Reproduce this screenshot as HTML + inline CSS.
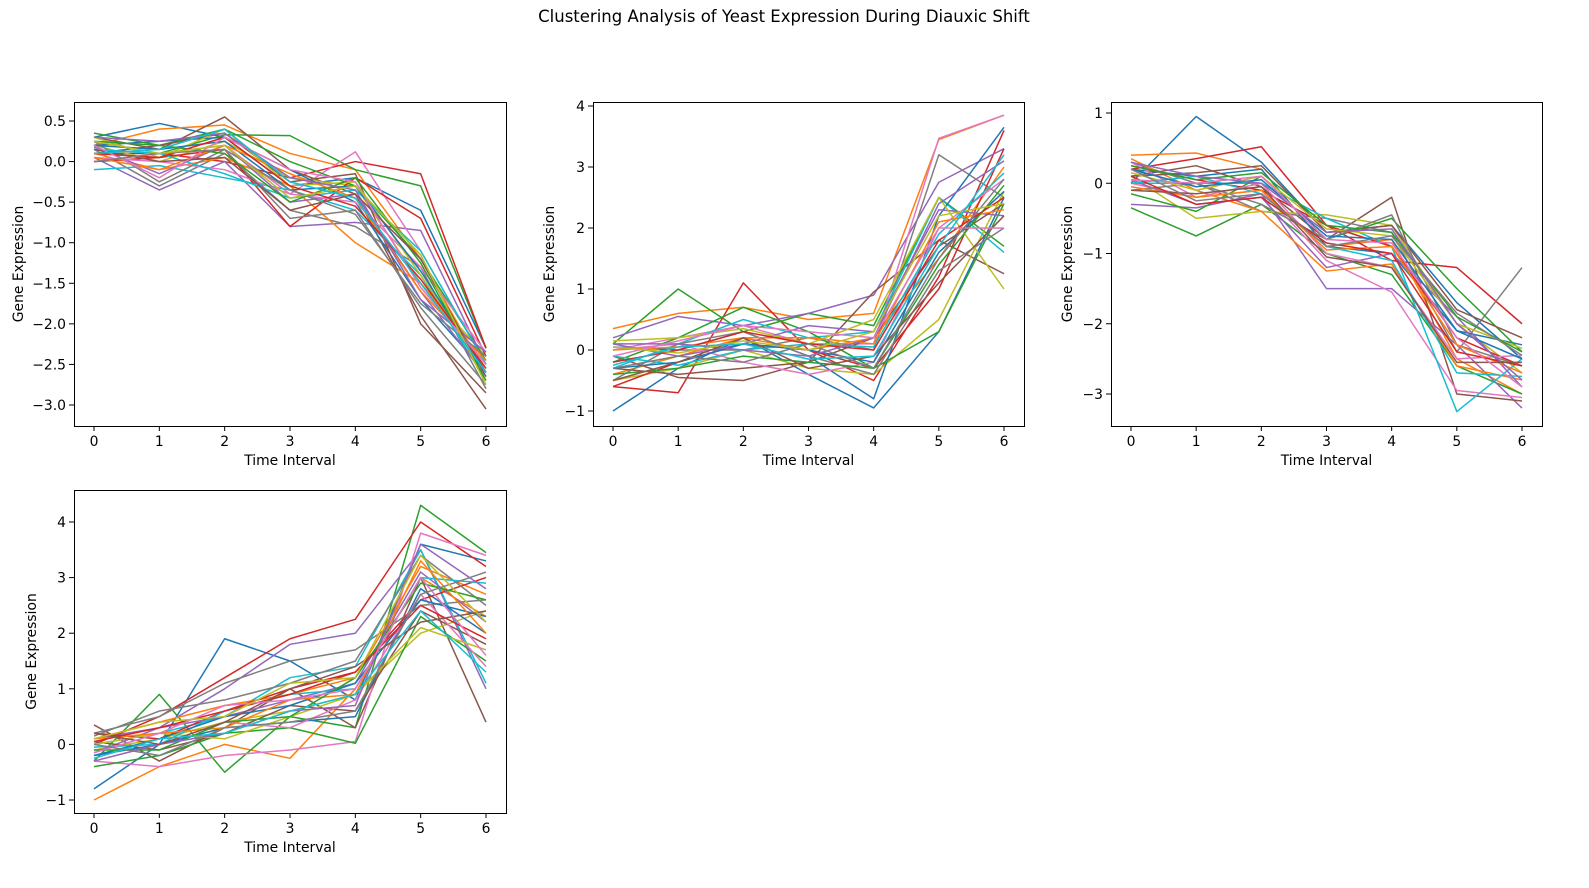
<!DOCTYPE html>
<html><head><meta charset="utf-8"><style>
body{margin:0;background:#fff;}
svg{display:block;font-family:"DejaVu Sans","Liberation Sans",sans-serif;}
</style></head><body>
<svg id="fig" width="1589" height="888" viewBox="0 0 1589 888">
<text x="784" y="22" text-anchor="middle" font-size="16.5">Clustering Analysis of Yeast Expression During Diauxic Shift</text>
</svg>
<script>
const timeCategories=[0,1,2,3,4,5,6];
const cluster1Ticks=[-3.0,-2.5,-2.0,-1.5,-1.0,-0.5,0.0,0.5];
const cluster2Ticks=[-1,0,1,2,3,4];
const cluster3Ticks=[-3,-2,-1,0,1];
const cluster4Ticks=[-1,0,1,2,3,4];
const cluster1Series=[
[0.3,0.47,0.3,-0.3,-0.2,-0.6,-2.3],[0.2,0.4,0.45,0.1,-0.1,-1.2,-2.6],[0.25,0.1,0.33,0.32,-0.1,-0.3,-2.3],
[0.1,0.1,0.0,-0.2,0.0,-0.15,-2.3],[0.05,-0.35,0.0,-0.8,-0.75,-0.85,-2.5],[0.3,0.15,0.55,-0.1,-0.4,-1.9,-3.05],
[0.0,0.1,0.2,-0.4,0.12,-1.1,-2.5],[0.15,-0.3,0.1,-0.6,-0.8,-1.3,-2.8],[0.2,0.0,0.25,-0.2,-0.3,-1.5,-2.4],
[-0.1,-0.05,-0.2,-0.35,-0.6,-1.4,-2.7],[0.2,0.25,0.3,-0.1,-0.5,-1.7,-2.6],[0.1,-0.1,0.05,-0.3,-1.0,-1.5,-2.5],
[0.35,0.2,0.4,0.0,-0.3,-1.2,-2.45],[0.0,0.05,0.15,-0.8,-0.2,-0.7,-2.4],[0.18,-0.15,0.2,-0.5,-0.4,-1.6,-2.65],
[0.1,0.2,0.35,-0.25,-0.15,-2.0,-2.85],[0.05,0.0,-0.1,-0.4,-0.5,-1.3,-2.35],[0.25,-0.25,0.15,-0.7,-0.6,-1.8,-2.75],
[0.3,0.05,0.4,-0.3,-0.25,-1.4,-2.55],[0.15,0.1,-0.15,-0.45,-0.35,-1.1,-2.5],
[0.2,0.15,0.25,-0.35,-0.3,-1.35,-2.6],[0.05,-0.1,0.2,-0.15,-0.45,-1.6,-2.45],[0.25,0.2,0.1,-0.5,-0.2,-1.25,-2.7],
[0.1,0.05,0.3,-0.3,-0.55,-1.45,-2.55],[0.3,0.25,0.35,-0.2,-0.35,-1.7,-2.35],[0.15,0.0,0.05,-0.6,-0.4,-1.2,-2.65],
[0.2,-0.2,0.3,-0.1,-0.25,-1.55,-2.5],[0.0,0.1,0.15,-0.35,-0.65,-1.75,-2.4],[0.25,0.1,0.2,-0.45,-0.3,-1.15,-2.75],
[0.1,0.15,0.4,-0.25,-0.45,-1.5,-2.6]];
const cluster2Series=[
[-1.0,-0.3,0.2,-0.4,-0.95,0.3,2.5],[0.35,0.6,0.7,0.5,0.6,3.45,3.85],[0.1,1.0,0.3,0.6,0.4,2.5,1.7],
[-0.6,-0.7,1.1,0.0,-0.5,1.2,3.6],[0.2,0.55,0.4,0.6,0.9,2.75,3.3],[-0.1,-0.45,-0.5,-0.2,0.95,1.8,1.25],
[0.0,0.2,0.4,0.1,0.1,3.47,3.85],[-0.2,0.0,0.0,0.2,0.0,3.2,2.5],[-0.5,-0.3,0.0,-0.3,-0.4,0.5,2.6],
[-0.3,0.1,0.5,0.2,0.3,2.5,1.6],[0.05,0.0,0.3,-0.1,-0.8,2.2,3.65],[-0.4,-0.1,0.2,0.0,0.2,1.5,3.0],
[-0.2,0.2,0.7,0.3,-0.3,0.3,2.4],[-0.6,-0.2,0.1,0.0,-0.3,1.0,3.3],[0.1,-0.1,0.1,0.4,0.3,2.3,2.2],
[-0.3,-0.4,-0.3,-0.2,0.2,1.7,2.4],[0.0,0.1,-0.2,-0.4,-0.2,2.0,2.8],[-0.5,0.1,0.3,-0.1,-0.4,1.3,2.0],
[0.15,0.2,0.35,0.1,0.5,2.5,1.0],[-0.1,-0.25,0.0,0.1,0.05,1.9,2.9],
[-0.3,-0.2,0.1,0.0,-0.2,1.6,2.6],[0.0,0.05,0.2,0.2,0.1,2.1,2.3],[-0.4,-0.3,-0.1,-0.2,-0.3,1.4,2.7],
[-0.2,0.0,0.3,0.1,0.0,1.8,2.5],[0.1,0.1,0.0,-0.1,0.2,2.4,3.1],[-0.5,-0.2,0.2,-0.3,-0.1,1.1,2.2],
[-0.1,0.15,0.4,0.3,0.2,2.0,2.0],[-0.3,-0.1,-0.2,0.1,-0.3,1.5,2.8],[0.05,-0.05,0.15,0.0,0.3,2.2,2.4],
[-0.25,0.05,0.1,-0.15,-0.1,1.7,3.2]];
const cluster3Series=[
[0.0,0.95,0.3,-0.7,-0.6,-1.7,-2.5],[0.4,0.43,0.2,-0.9,-0.8,-2.5,-3.0],[-0.35,-0.75,-0.3,-1.0,-1.3,-2.6,-3.0],
[0.2,0.35,0.52,-0.6,-1.1,-1.2,-2.0],[-0.3,-0.35,-0.15,-1.5,-1.5,-2.3,-3.2],[0.1,0.25,-0.05,-0.8,-0.2,-3.0,-3.1],
[0.0,-0.2,-0.1,-1.1,-1.55,-2.95,-3.05],[0.3,0.0,-0.4,-0.5,-0.7,-2.4,-1.2],[0.1,-0.5,-0.4,-0.45,-0.6,-2.0,-2.7],
[0.0,0.0,0.0,-0.5,-0.9,-3.25,-2.5],[0.2,0.1,0.2,-0.9,-1.0,-2.1,-2.3],[0.35,-0.1,-0.4,-1.25,-1.15,-2.6,-2.8],
[-0.15,-0.4,0.1,-0.8,-0.5,-1.5,-2.4],[0.25,0.05,-0.1,-0.6,-0.9,-2.2,-2.6],[0.05,-0.3,-0.2,-1.2,-1.0,-1.9,-2.9],
[0.1,0.15,0.25,-0.7,-0.6,-1.8,-2.2],[0.3,-0.2,0.0,-1.0,-1.2,-2.5,-2.45],[-0.1,0.0,-0.3,-0.8,-0.45,-2.3,-2.6],
[0.15,-0.1,0.1,-0.65,-0.75,-2.0,-2.35],[0.0,0.1,-0.15,-0.9,-1.1,-2.7,-2.75],
[0.2,-0.05,0.05,-0.75,-0.8,-2.1,-2.5],[-0.05,-0.2,-0.1,-0.95,-0.9,-2.3,-2.7],[0.25,0.05,0.15,-0.6,-0.7,-1.9,-2.4],
[0.1,-0.3,-0.2,-0.85,-1.0,-2.4,-2.6],[0.3,0.1,0.0,-0.7,-0.65,-2.0,-2.8],[-0.1,-0.15,-0.05,-1.05,-1.2,-2.55,-2.55],
[0.05,0.0,0.1,-0.8,-0.85,-2.2,-2.9],[0.2,-0.25,-0.15,-0.9,-0.75,-1.85,-2.45]];
const cluster4Series=[
[-0.8,0.0,1.9,1.5,0.8,3.6,3.3],[-1.0,-0.4,0.0,-0.25,1.0,3.0,2.3],[-0.3,0.9,-0.5,0.5,0.3,4.3,3.45],
[0.0,0.5,1.2,1.9,2.25,4.0,3.2],[0.1,0.3,1.0,1.8,2.0,3.5,1.0],[0.35,-0.3,0.3,1.0,0.3,3.0,0.4],
[-0.3,-0.4,-0.2,-0.1,0.05,3.8,3.4],[0.2,0.5,1.1,1.5,1.7,2.5,2.6],[-0.1,0.1,0.4,0.6,0.9,2.0,2.4],
[0.0,0.2,0.5,1.2,1.4,3.5,1.1],[-0.2,0.0,0.3,0.4,0.5,2.8,2.0],[0.1,0.4,0.7,0.9,1.2,3.2,2.7],
[-0.4,-0.2,0.2,0.3,0.02,2.3,1.5],[0.2,0.1,0.6,1.0,1.3,2.6,3.0],[-0.15,0.3,0.5,0.8,1.1,3.1,2.2],
[0.05,-0.1,0.2,0.7,0.6,2.4,1.8],[-0.3,0.0,0.4,0.3,0.8,2.7,1.4],[0.15,0.6,0.8,1.1,1.5,3.4,2.5],
[0.0,0.2,0.1,0.5,0.9,2.1,1.7],[-0.05,0.0,0.6,0.9,1.0,3.0,2.9],
[-0.2,0.1,0.5,0.7,1.1,2.6,2.3],[0.1,0.2,0.3,0.8,0.9,3.3,2.0],[-0.1,-0.1,0.4,0.5,1.2,2.9,2.6],
[0.05,0.3,0.6,0.9,1.3,2.5,1.9],[-0.3,0.0,0.2,0.6,0.7,3.6,2.8],[0.2,0.0,0.4,1.0,1.4,2.2,2.4],
[-0.15,0.2,0.7,0.8,1.0,3.0,1.6],[0.0,-0.2,0.3,0.4,0.6,2.7,3.1],[0.1,0.4,0.5,1.1,1.2,3.4,2.2],
[-0.25,0.1,0.2,0.6,0.9,2.4,1.3]];
const colors=["#1f77b4","#ff7f0e","#2ca02c","#d62728","#9467bd","#8c564b","#e377c2","#7f7f7f","#bcbd22","#17becf"];
const NS="http://www.w3.org/2000/svg";
const svg=document.getElementById('fig');
function mk(tag,attrs,parent){const e=document.createElementNS(NS,tag);for(const k in attrs)e.setAttribute(k,attrs[k]);(parent||svg).appendChild(e);return e;}
function panel(id,box,x0px,x6px,yv1,yp1,yv2,yp2,ticks,series,dec,labOff){
  const g=mk('g',{});
  
  
  const xs=v=>x0px+(x6px-x0px)*v/6;
  const ys=v=>yp1+(v-yv1)*(yp2-yp1)/(yv2-yv1);
  const cp=mk('clipPath',{id:'clip'+id},g);
  mk('rect',{x:box[0],y:box[1],width:box[2]-box[0],height:box[3]-box[1]},cp);
  const lg=mk('g',{'clip-path':'url(#clip'+id+')'},g);
  series.forEach((s,i)=>{
    const p=mk('polyline',{points:s.map((v,j)=>xs(timeCategories[j])+','+ys(v)).join(' '),fill:'none',stroke:colors[i%10],'stroke-width':1.5,'stroke-linejoin':'round'},lg);
    
    
  });
  const fr=mk('rect',{x:box[0]+0.5,y:box[1]+0.5,width:box[2]-box[0],height:box[3]-box[1],fill:'none',stroke:'#000','stroke-width':1},g);
  
  
  timeCategories.forEach(c=>{
    const x=xs(c);
    mk('line',{x1:x,x2:x,y1:box[3],y2:box[3]+5,stroke:'#000'},g);
    const t=mk('text',{x:x,y:box[3]+20,'text-anchor':'middle','font-size':13.9},g);t.textContent=c;
    
    
  });
  ticks.forEach(v=>{
    const y=ys(v);
    mk('line',{x1:box[0]-5,x2:box[0],y1:y,y2:y,stroke:'#000'},g);
    const t=mk('text',{x:box[0]-8,y:y+5,'text-anchor':'end','font-size':13.9},g);
    t.textContent=(v<0?'\u2212':'')+Math.abs(v).toFixed(dec);
    
    
  });
  const xl=mk('text',{x:(box[0]+box[2])/2,y:box[3]+39,'text-anchor':'middle','font-size':13.9},g);xl.textContent='Time Interval';
  
  
  const lx=box[0]-labOff, cy=(box[1]+box[3])/2;
  const yl=mk('text',{x:lx,y:cy,'text-anchor':'middle','font-size':13.9,transform:'rotate(-90 '+lx+' '+cy+')'},g);yl.textContent='Gene Expression';
  
  
}
panel(1,[74,102,506,426],94,486,0.5,121,-3.0,405,cluster1Ticks,cluster1Series,1,51);
panel(2,[593,102,1024,426],613,1004,4,106,-1,411,cluster2Ticks,cluster2Series,0,39);
panel(3,[1111,102,1542,426],1131,1522,1,113,-3,394,cluster3Ticks,cluster3Series,0,39);
panel(4,[74,490,506,813],94,486,4,522,-1,800,cluster4Ticks,cluster4Series,0,38);
</script>
</body></html>
